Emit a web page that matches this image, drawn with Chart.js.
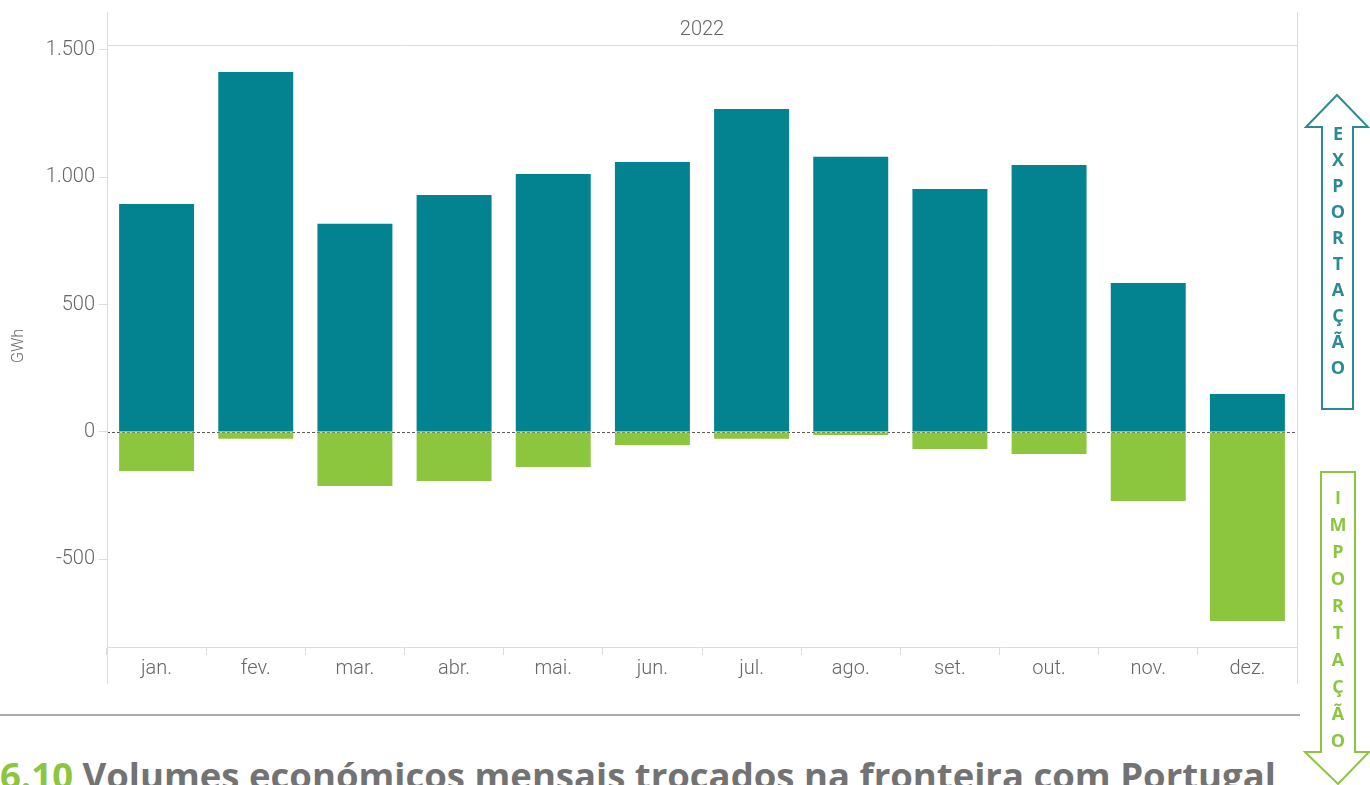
<!DOCTYPE html>
<html>
<head>
<meta charset="utf-8">
<script src="https://cdn.jsdelivr.net/npm/chart.js@4"></script>
<style>
  body { margin: 0; width: 1370px; height: 785px; overflow: hidden; background: #fff; position: relative; }
  #wrap { position: absolute; left: 0; top: 0; width: 1300px; height: 690px; }
  #rule { position: absolute; left: 0; top: 714px; width: 1300px; height: 2px; background: #aaa; }
  #title { position: absolute; left: 0; top: 757px; font-family: "Open Sans", sans-serif; font-weight: 700; font-size: 36.5px; line-height: 36px; color: #737373; white-space: nowrap; }
  #title span { color: #8cc63f; }
  svg { position: absolute; left: 0; top: 0; }
</style>
</head>
<body>
<div id="wrap"><canvas id="chart"></canvas></div>
<div id="rule"></div>
<div id="title"><span>6.10</span> Volumes económicos mensais trocados na fronteira com Portugal</div>
<svg width="1370" height="785">
  <polygon points="1337,95 1368,127 1353,127 1353,409 1322,409 1322,127 1306,127" fill="none" stroke="#2a8a95" stroke-width="2"/>
  <g font-family="Open Sans, sans-serif" font-weight="700" font-size="18" fill="#2a8a95" text-anchor="middle">
    <text x="1338" y="140">E</text><text x="1338" y="166">X</text><text x="1338" y="192">P</text>
    <text x="1338" y="218">O</text><text x="1338" y="244">R</text><text x="1338" y="270">T</text>
    <text x="1338" y="296">A</text><text x="1338" y="322">Ç</text><text x="1338" y="348">Ã</text>
    <text x="1338" y="374">O</text>
  </g>
  <polygon points="1321,472 1355,472 1355,752 1369,752 1338,784 1305,752 1321,752" fill="none" stroke="#8cc63f" stroke-width="2"/>
  <g font-family="Open Sans, sans-serif" font-weight="700" font-size="18" fill="#8cc63f" text-anchor="middle">
    <text x="1338" y="504">I</text><text x="1338" y="531">M</text><text x="1338" y="558">P</text>
    <text x="1338" y="585">O</text><text x="1338" y="612">R</text><text x="1338" y="639">T</text>
    <text x="1338" y="666">A</text><text x="1338" y="693">Ç</text><text x="1338" y="720">Ã</text>
    <text x="1338" y="747">O</text>
  </g>
</svg>
<script>
// Monthly data (GWh)
const months = ["jan.", "fev.", "mar.", "abr.", "mai.", "jun.", "jul.", "ago.", "set.", "out.", "nov.", "dez."];
const exportacao = [895, 1413, 817, 930, 1013, 1060, 1268, 1080, 954, 1048, 585, 149];
const importacao = [-153, -27, -212, -192, -137, -51, -27, -12, -67, -86, -271, -742];
const yTicks = [-500, 0, 500, 1000, 1500];
const yearLabel = "2022";

const gridGray = "#dcdcdc";
const textGray = "#666";

// frame, header and dashed zero line
const framePlugin = {
  id: "frame",
  beforeDatasetsDraw(chart) {
    const { ctx, chartArea } = chart;
    const y0 = chart.scales.y.getPixelForValue(0);
    ctx.save();
    ctx.strokeStyle = "#555";
    ctx.lineWidth = 1;
    ctx.setLineDash([3, 2]);
    ctx.beginPath();
    ctx.moveTo(chartArea.left, y0 + 0.5);
    ctx.lineTo(chartArea.right, y0 + 0.5);
    ctx.stroke();
    ctx.restore();
  },
  afterDraw(chart) {
    const { ctx, chartArea } = chart;
    ctx.save();
    ctx.strokeStyle = gridGray;
    ctx.lineWidth = 1;
    ctx.beginPath();
    ctx.moveTo(chartArea.left + 0.5, 12);
    ctx.lineTo(chartArea.left + 0.5, 684);
    ctx.moveTo(chartArea.right + 0.5, 12);
    ctx.lineTo(chartArea.right + 0.5, 684);
    ctx.moveTo(chartArea.left, chartArea.top + 0.5);
    ctx.lineTo(chartArea.right, chartArea.top + 0.5);
    ctx.stroke();
    ctx.fillStyle = textGray;
    ctx.font = "300 20px Roboto";
    ctx.textAlign = "center";
    ctx.textBaseline = "middle";
    ctx.fillText(yearLabel, (chartArea.left + chartArea.right) / 2, 30);
    ctx.restore();
  }
};

new Chart(document.getElementById("chart"), {
  type: "bar",
  data: {
    labels: months,
    datasets: [
      { label: "Exportação", data: exportacao, backgroundColor: "#02838f" },
      { label: "Importação", data: importacao, backgroundColor: "#8cc63f" }
    ]
  },
  options: {
    responsive: true,
    maintainAspectRatio: false,
    animation: false,
    layout: { padding: { top: 45, right: 3, left: 0, bottom: 0 } },
    plugins: { legend: { display: false }, tooltip: { enabled: false } },
    datasets: { bar: { categoryPercentage: 1, barPercentage: 0.756 } },
    scales: {
      x: {
        stacked: true,
        afterFit: (s) => { s.height = 43; },
        grid: { offset: true, drawOnChartArea: false, color: gridGray, tickLength: 8 },
        border: { color: gridGray },
        ticks: { color: textGray, font: { family: "Roboto", size: 20, weight: "300" }, padding: 2 }
      },
      y: {
        stacked: true,
        min: -844,
        max: 1519,
        afterFit: (s) => { s.width = 107; },
        afterBuildTicks: (s) => { s.ticks = yTicks.map((v) => ({ value: v })); },
        grid: { drawOnChartArea: false, color: gridGray, tickLength: 8 },
        border: { display: false },
        title: { display: true, text: "GWh", color: textGray, font: { family: "Roboto", size: 16, weight: "300" }, padding: { top: 9, bottom: 0 } },
        ticks: {
          color: textGray,
          padding: 4,
          font: { family: "Roboto", size: 20, weight: "300" },
          callback: (v) => v.toString().replace(/\B(?=(\d{3})+(?!\d))/g, ".")
        }
      }
    }
  },
  plugins: [framePlugin]
});
</script>
</body>
</html>
